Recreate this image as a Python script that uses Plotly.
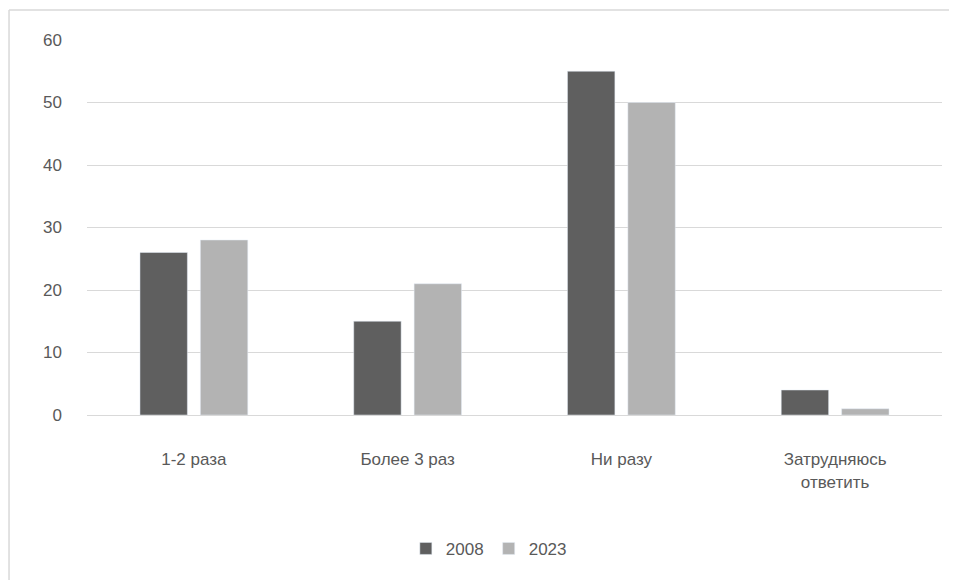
import plotly.graph_objects as go

categories = ["1-2 раза", "Более 3 раз", "Ни разу", "Затрудняюсь<br>ответить"]
values_2008 = [26, 15, 55, 4]
values_2023 = [28, 21, 50, 1]
y_ticks = [0, 10, 20, 30, 40, 50, 60]

FONT = "Liberation Sans Narrow, Arial Narrow, Liberation Sans, Arial, sans-serif"
TXT = "#595959"
BORDER = dict(color="#d9d9d9", width=1.5)

fig = go.Figure()
fig.add_trace(go.Bar(name="2008", x=categories, y=values_2008, marker_color="#5f5f5f"))
fig.add_trace(go.Bar(name="2023", x=categories, y=values_2023, marker_color="#b3b3b3"))

fig.update_layout(
    width=949, height=572,
    margin=dict(l=79, r=15, t=32, b=165),
    paper_bgcolor="white", plot_bgcolor="white",
    barmode="group", bargap=0.435, bargroupgap=0.215,
    font=dict(family=FONT, size=17, color=TXT),
    showlegend=True,
    legend=dict(orientation="h", x=0.47, xanchor="center", y=-0.357, yanchor="middle",
                font=dict(size=17, color=TXT), traceorder="normal"),
    shapes=[
        dict(type="line", xref="paper", yref="paper", x0=-0.0912, y0=-0.6, x1=-0.0912, y1=1.08,
             line=BORDER, layer="below"),
        dict(type="line", xref="paper", yref="paper", x0=-0.0912, y0=1.08, x1=1.2, y1=1.08,
             line=BORDER, layer="below"),
    ],
)
fig.update_yaxes(range=[0, 60], tickvals=y_ticks, showgrid=True, gridcolor="#d9d9d9",
                 zeroline=False, showline=False, ticks="", ticklabelstandoff=24,
                 tickfont=dict(size=17, color=TXT))
fig.update_xaxes(showline=True, linecolor="#d9d9d9", linewidth=1, ticks="",
                 ticklabelstandoff=29, tickfont=dict(size=17, color=TXT))

fig.write_html("out.html")
